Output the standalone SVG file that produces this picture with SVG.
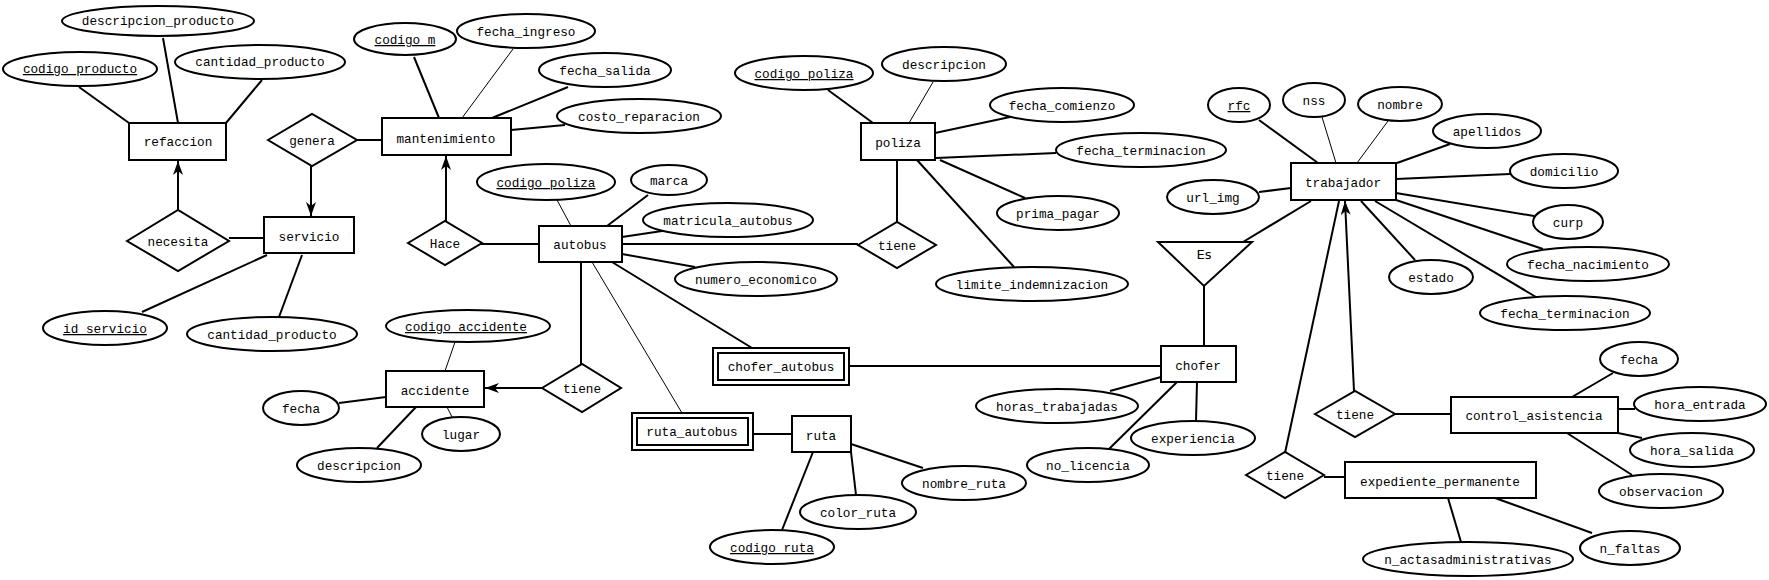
<svg xmlns="http://www.w3.org/2000/svg" width="1769" height="580" viewBox="0 0 1769 580">
<defs>
<style>
text{font-family:"Liberation Mono","DejaVu Sans Mono",monospace;font-size:12.7px;fill:#000;text-anchor:middle}
.u{text-decoration:underline}
.es{font-family:"DejaVu Sans","Liberation Sans",sans-serif;font-size:13px}
ellipse,rect,polygon{fill:#fff;stroke:#000;stroke-width:2}
line{stroke:#000;stroke-width:2}
line.t{stroke-width:1}
line.a{marker-end:url(#arr)}
</style>
<marker id="arr" viewBox="0 0 14 10" refX="14" refY="5" markerWidth="14" markerHeight="10" markerUnits="userSpaceOnUse" orient="auto">
<path d="M0,0 L14,5 L0,10 L4,5 z" fill="#000"/>
</marker>
</defs>
<rect x="0" y="0" width="1769" height="580" style="fill:#fff;stroke:none"/>
<g id="connectors">
<line x1="79" y1="87" x2="129" y2="123"/>
<line x1="163" y1="38" x2="178" y2="123"/>
<line x1="262" y1="80" x2="226" y2="123"/>
<line x1="357" y1="140" x2="382" y2="140"/>
<line x1="414" y1="57" x2="439" y2="118"/>
<line class="t" x1="513" y1="49" x2="462" y2="118"/>
<line x1="568" y1="87" x2="492" y2="118"/>
<line x1="565" y1="125" x2="511" y2="130"/>
<line class="a" x1="311" y1="166" x2="311" y2="216"/>
<line class="a" x1="178" y1="210" x2="178" y2="161"/>
<line x1="229" y1="238" x2="264" y2="238"/>
<line x1="267" y1="255" x2="142" y2="312"/>
<line x1="302" y1="255" x2="279" y2="317"/>
<line class="a" x1="446" y1="221" x2="446" y2="156"/>
<line x1="481" y1="244" x2="539" y2="244"/>
<line class="t" x1="557" y1="200" x2="571" y2="226"/>
<line x1="648" y1="195" x2="607" y2="226"/>
<line x1="662" y1="231" x2="622" y2="237"/>
<line x1="622" y1="254" x2="695" y2="267"/>
<line x1="622" y1="244" x2="858" y2="244"/>
<line x1="828" y1="90" x2="873" y2="123"/>
<line class="t" x1="933" y1="82" x2="909" y2="123"/>
<line x1="1010" y1="117" x2="935" y2="133"/>
<line x1="1056" y1="153" x2="936" y2="158"/>
<line x1="897" y1="160" x2="897" y2="222"/>
<line x1="940" y1="160" x2="1025" y2="198"/>
<line x1="917" y1="160" x2="1014" y2="267"/>
<line x1="581" y1="262" x2="581" y2="364"/>
<line class="a" x1="542" y1="388" x2="485" y2="388"/>
<line class="t" x1="455" y1="342" x2="445" y2="371"/>
<line x1="339" y1="403" x2="386" y2="397"/>
<line x1="416" y1="407" x2="377" y2="448"/>
<line class="t" x1="447" y1="407" x2="452" y2="417"/>
<line x1="612" y1="262" x2="752" y2="348"/>
<line class="t" x1="592" y1="262" x2="682" y2="413"/>
<line x1="753" y1="434" x2="792" y2="434"/>
<line x1="851" y1="444" x2="923" y2="468"/>
<line x1="851" y1="452" x2="856" y2="495"/>
<line x1="813" y1="452" x2="782" y2="530"/>
<line x1="849" y1="366" x2="1161" y2="366"/>
<line x1="1204" y1="286" x2="1204" y2="346"/>
<line x1="1311" y1="201" x2="1243" y2="242"/>
<line x1="1161" y1="377" x2="1110" y2="391"/>
<line x1="1197" y1="382" x2="1196" y2="421"/>
<line x1="1177" y1="382" x2="1109" y2="449"/>
<line x1="1259" y1="120" x2="1318" y2="163"/>
<line class="t" x1="1322" y1="117" x2="1336" y2="163"/>
<line class="t" x1="1388" y1="121" x2="1357" y2="163"/>
<line x1="1450" y1="144" x2="1397" y2="163"/>
<line x1="1510" y1="174" x2="1396" y2="179"/>
<line x1="1534" y1="216" x2="1396" y2="193"/>
<line x1="1543" y1="249" x2="1396" y2="200"/>
<line x1="1536" y1="297" x2="1375" y2="201"/>
<line x1="1361" y1="201" x2="1415" y2="260"/>
<line x1="1259" y1="192" x2="1291" y2="188"/>
<line x1="1339" y1="201" x2="1285" y2="453"/>
<line class="a" x1="1354" y1="391" x2="1345" y2="201"/>
<line x1="1395" y1="414" x2="1451" y2="414"/>
<line x1="1613" y1="373" x2="1572" y2="397"/>
<line x1="1618" y1="409" x2="1635" y2="409"/>
<line x1="1618" y1="433" x2="1642" y2="438"/>
<line x1="1567" y1="433" x2="1632" y2="475"/>
<line x1="1324" y1="477" x2="1345" y2="477"/>
<line x1="1448" y1="498" x2="1461" y2="542"/>
<line x1="1495" y1="498" x2="1592" y2="533"/>
</g>
<g id="refaccion"><rect x="129" y="123" width="97" height="37"/><text x="178" y="146">refaccion</text></g>
<g id="descripcion_producto"><ellipse cx="158" cy="21" rx="96" ry="15"/><text x="158" y="25">descripcion_producto</text></g>
<g id="codigo_producto"><ellipse cx="80" cy="69" rx="77" ry="17"/><text class="u" x="80" y="73">codigo_producto</text></g>
<g id="cantidad_producto_r"><ellipse cx="260" cy="62" rx="85" ry="17"/><text x="260" y="66">cantidad_producto</text></g>
<g id="genera"><polygon points="268,140 312,114 357,140 312,166"/><text x="312" y="145">genera</text></g>
<g id="mantenimiento"><rect x="382" y="118" width="129" height="37"/><text x="446" y="143">mantenimiento</text></g>
<g id="codigo_m"><ellipse cx="405" cy="39" rx="51" ry="16"/><text class="u" x="405" y="44">codigo_m</text></g>
<g id="fecha_ingreso"><ellipse cx="526" cy="31" rx="69" ry="17"/><text x="526" y="36">fecha_ingreso</text></g>
<g id="fecha_salida"><ellipse cx="605" cy="70" rx="66" ry="17"/><text x="605" y="75">fecha_salida</text></g>
<g id="costo_reparacion"><ellipse cx="639" cy="116" rx="82" ry="17"/><text x="639" y="121">costo_reparacion</text></g>
<g id="servicio"><rect x="264" y="217" width="90" height="36"/><text x="309" y="241">servicio</text></g>
<g id="necesita"><polygon points="127,241 178,210 229,241 178,271"/><text x="178" y="246">necesita</text></g>
<g id="id_servicio"><ellipse cx="105" cy="328" rx="62" ry="17"/><text class="u" x="105" y="333">id_servicio</text></g>
<g id="cantidad_producto_s"><ellipse cx="272" cy="334" rx="85" ry="17"/><text x="272" y="339">cantidad_producto</text></g>
<g id="hace"><polygon points="408,243 445,221 482,243 445,265"/><text x="445" y="248">Hace</text></g>
<g id="autobus"><rect x="539" y="226" width="83" height="36"/><text x="580" y="249">autobus</text></g>
<g id="codigo_poliza_a"><ellipse cx="546" cy="182" rx="69" ry="18"/><text class="u" x="546" y="187">codigo_poliza</text></g>
<g id="marca"><ellipse cx="669" cy="180" rx="38" ry="15"/><text x="669" y="185">marca</text></g>
<g id="matricula_autobus"><ellipse cx="728" cy="220" rx="85" ry="17"/><text x="728" y="225">matricula_autobus</text></g>
<g id="numero_economico"><ellipse cx="756" cy="279" rx="81" ry="17"/><text x="756" y="284">numero_economico</text></g>
<g id="poliza"><rect x="861" y="123" width="74" height="37"/><text x="898" y="147">poliza</text></g>
<g id="codigo_poliza_p"><ellipse cx="804" cy="73" rx="69" ry="17"/><text class="u" x="804" y="78">codigo_poliza</text></g>
<g id="descripcion_p"><ellipse cx="944" cy="64" rx="62" ry="17"/><text x="944" y="69">descripcion</text></g>
<g id="fecha_comienzo"><ellipse cx="1062" cy="105" rx="72" ry="17"/><text x="1062" y="110">fecha_comienzo</text></g>
<g id="fecha_terminacion_p"><ellipse cx="1141" cy="150" rx="85" ry="17"/><text x="1141" y="155">fecha_terminacion</text></g>
<g id="prima_pagar"><ellipse cx="1058" cy="213" rx="61" ry="17"/><text x="1058" y="218">prima_pagar</text></g>
<g id="limite_indemnizacion"><ellipse cx="1032" cy="284" rx="96" ry="17"/><text x="1032" y="289">limite_indemnizacion</text></g>
<g id="tiene_poliza"><polygon points="858,245 897,222 936,245 897,268"/><text x="897" y="250">tiene</text></g>
<g id="accidente"><rect x="386" y="371" width="98" height="36"/><text x="435" y="395">accidente</text></g>
<g id="tiene_accidente"><polygon points="542,388 582,364 621,388 582,412"/><text x="582" y="393">tiene</text></g>
<g id="codigo_accidente"><ellipse cx="468" cy="326" rx="82" ry="16"/><text class="u" x="466" y="331">codigo_accidente</text></g>
<g id="fecha_a"><ellipse cx="301" cy="408" rx="38" ry="17"/><text x="301" y="413">fecha</text></g>
<g id="lugar"><ellipse cx="461" cy="434" rx="39" ry="17"/><text x="461" y="439">lugar</text></g>
<g id="descripcion_a"><ellipse cx="359" cy="465" rx="62" ry="17"/><text x="359" y="470">descripcion</text></g>
<g id="chofer_autobus"><rect x="713" y="348" width="136" height="37"/><rect x="718" y="353" width="126" height="27"/><text x="781" y="371">chofer_autobus</text></g>
<g id="ruta_autobus"><rect x="632" y="413" width="121" height="37"/><rect x="637" y="418" width="111" height="27"/><text x="692" y="436">ruta_autobus</text></g>
<g id="ruta"><rect x="792" y="416" width="59" height="36"/><text x="821" y="440">ruta</text></g>
<g id="nombre_ruta"><ellipse cx="964" cy="483" rx="62" ry="17"/><text x="964" y="488">nombre_ruta</text></g>
<g id="color_ruta"><ellipse cx="858" cy="512" rx="58" ry="17"/><text x="858" y="517">color_ruta</text></g>
<g id="codigo_ruta"><ellipse cx="772" cy="547" rx="62" ry="17"/><text class="u" x="772" y="552">codigo_ruta</text></g>
<g id="es"><polygon points="1158,242 1252,242 1204,286"/><text class="es" x="1204" y="259">Es</text></g>
<g id="chofer"><rect x="1161" y="346" width="75" height="36"/><text x="1198" y="370">chofer</text></g>
<g id="horas_trabajadas"><ellipse cx="1057" cy="406" rx="81" ry="17"/><text x="1057" y="411">horas_trabajadas</text></g>
<g id="experiencia"><ellipse cx="1193" cy="438" rx="62" ry="17"/><text x="1193" y="443">experiencia</text></g>
<g id="no_licencia"><ellipse cx="1088" cy="465" rx="61" ry="17"/><text x="1088" y="470">no_licencia</text></g>
<g id="trabajador"><rect x="1291" y="163" width="105" height="37"/><text x="1343" y="187">trabajador</text></g>
<g id="rfc"><ellipse cx="1239" cy="105" rx="31" ry="17"/><text class="u" x="1239" y="110">rfc</text></g>
<g id="nss"><ellipse cx="1314" cy="100" rx="31" ry="17"/><text x="1314" y="105">nss</text></g>
<g id="nombre"><ellipse cx="1400" cy="104" rx="42" ry="17"/><text x="1400" y="109">nombre</text></g>
<g id="apellidos"><ellipse cx="1487" cy="131" rx="54" ry="17"/><text x="1487" y="136">apellidos</text></g>
<g id="domicilio"><ellipse cx="1564" cy="171" rx="54" ry="17"/><text x="1564" y="176">domicilio</text></g>
<g id="curp"><ellipse cx="1568" cy="222" rx="35" ry="17"/><text x="1568" y="227">curp</text></g>
<g id="fecha_nacimiento"><ellipse cx="1588" cy="264" rx="81" ry="17"/><text x="1588" y="269">fecha_nacimiento</text></g>
<g id="fecha_terminacion_t"><ellipse cx="1565" cy="313" rx="85" ry="17"/><text x="1565" y="318">fecha_terminacion</text></g>
<g id="estado"><ellipse cx="1431" cy="277" rx="42" ry="17"/><text x="1431" y="282">estado</text></g>
<g id="url_img"><ellipse cx="1213" cy="197" rx="46" ry="17"/><text x="1213" y="202">url_img</text></g>
<g id="tiene_control"><polygon points="1315,414 1355,391 1395,414 1355,437"/><text x="1355" y="419">tiene</text></g>
<g id="control_asistencia"><rect x="1451" y="397" width="167" height="36"/><text x="1534" y="420">control_asistencia</text></g>
<g id="fecha_c"><ellipse cx="1639" cy="359" rx="39" ry="17"/><text x="1639" y="364">fecha</text></g>
<g id="hora_entrada"><ellipse cx="1700" cy="404" rx="66" ry="17"/><text x="1700" y="409">hora_entrada</text></g>
<g id="hora_salida"><ellipse cx="1692" cy="450" rx="62" ry="17"/><text x="1692" y="455">hora_salida</text></g>
<g id="observacion"><ellipse cx="1661" cy="491" rx="62" ry="17"/><text x="1661" y="496">observacion</text></g>
<g id="tiene_expediente"><polygon points="1246,475 1285,452 1324,475 1285,498"/><text x="1285" y="480">tiene</text></g>
<g id="expediente_permanente"><rect x="1345" y="462" width="191" height="36"/><text x="1440" y="486">expediente_permanente</text></g>
<g id="n_actasadministrativas"><ellipse cx="1468" cy="559" rx="105" ry="17"/><text x="1468" y="564">n_actasadministrativas</text></g>
<g id="n_faltas"><ellipse cx="1630" cy="548" rx="50" ry="17"/><text x="1630" y="553">n_faltas</text></g>
</svg>
